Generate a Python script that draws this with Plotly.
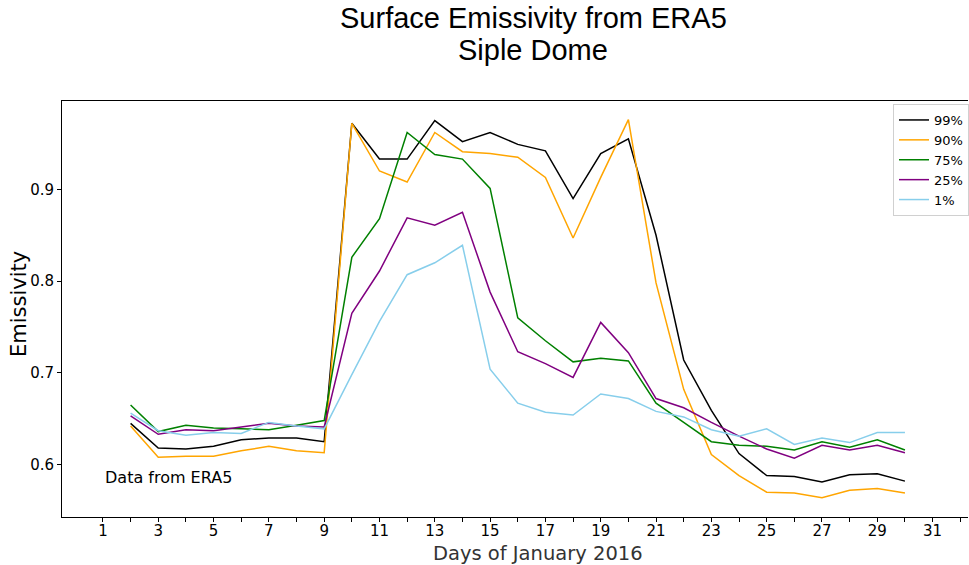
import plotly.graph_objects as go

days = list(range(2, 31))

p99 = [0.645, 0.618, 0.617, 0.620, 0.627, 0.629, 0.629, 0.625,
       0.972, 0.933, 0.933, 0.975, 0.952, 0.962, 0.949, 0.942, 0.890,
       0.939, 0.955, 0.850, 0.714, 0.659, 0.612, 0.588, 0.587, 0.581,
       0.589, 0.590, 0.582]
p90 = [0.642, 0.608, 0.609, 0.609, 0.615, 0.620, 0.615, 0.613,
       0.972, 0.920, 0.908, 0.962, 0.941, 0.939, 0.935, 0.913, 0.847,
       0.913, 0.976, 0.798, 0.682, 0.611, 0.588, 0.570, 0.569, 0.564,
       0.572, 0.574, 0.569]
p75 = [0.665, 0.636, 0.643, 0.640, 0.639, 0.638, 0.643, 0.648,
       0.826, 0.868, 0.962, 0.938, 0.933, 0.901, 0.760, 0.735, 0.712,
       0.716, 0.713, 0.667, 0.646, 0.625, 0.621, 0.620, 0.616, 0.625,
       0.619, 0.627, 0.616]
p25 = [0.653, 0.633, 0.638, 0.637, 0.641, 0.645, 0.642, 0.641,
       0.765, 0.811, 0.869, 0.861, 0.875, 0.788, 0.723, 0.710, 0.695,
       0.755, 0.722, 0.672, 0.662, 0.646, 0.631, 0.617, 0.607, 0.621,
       0.616, 0.621, 0.613]
p01 = [0.656, 0.637, 0.632, 0.635, 0.634, 0.646, 0.642, 0.639,
       0.698, 0.756, 0.807, 0.820, 0.839, 0.704, 0.667, 0.657, 0.654,
       0.677, 0.672, 0.658, 0.652, 0.638, 0.631, 0.639, 0.622, 0.629,
       0.624, 0.635, 0.635]

series = [("99%", p99, "black"), ("90%", p90, "orange"), ("75%", p75, "green"),
          ("25%", p25, "purple"), ("1%", p01, "skyblue")]

x_tickvals = list(range(1, 33))
x_ticktext = [str(v) if v % 2 == 1 else "" for v in x_tickvals]
y_tickvals = [0.6, 0.7, 0.8, 0.9]
y_ticktext = ["0.6", "0.7", "0.8", "0.9"]

fig = go.Figure()
for name, vals, col in series:
    fig.add_trace(go.Scatter(x=days, y=vals, mode="lines", name=name,
                             line=dict(color=col, width=1.5)))

W, H = 969, 565
L, R, T, B = 62, 0, 101, 48
pw, ph = W - L - R, H - T - B

def px(xp):
    return (xp - L) / pw

def py(yp):
    return (H - B - yp) / ph

font_dv = "DejaVu Sans"

fig.update_layout(
    width=W, height=H,
    margin=dict(l=L, r=R, t=T, b=B),
    paper_bgcolor="white", plot_bgcolor="white",
    showlegend=True,
    legend=dict(x=px(894), y=py(104), xanchor="left", yanchor="top",
                font=dict(family=font_dv, size=13, color="black"),
                bordercolor="#d0d0d0", borderwidth=1, bgcolor="white",
                tracegroupgap=0),
    xaxis=dict(range=[-0.48, 32.28], tickvals=x_tickvals, ticktext=x_ticktext,
               ticks="outside", ticklen=4, tickwidth=1, tickcolor="black",
               ticklabelstandoff=-4,
               showline=True, linecolor="black", linewidth=1, mirror=True,
               showgrid=False, zeroline=False,
               tickfont=dict(family=font_dv, size=15, color="black")),
    yaxis=dict(range=[0.5429, 0.9963], tickvals=y_tickvals, ticktext=y_ticktext,
               ticks="outside", ticklen=4, tickwidth=1, tickcolor="black",
               showline=True, linecolor="black", linewidth=1,
               showgrid=False, zeroline=False,
               tickfont=dict(family=font_dv, size=15, color="black")),
    annotations=[
        dict(text="Surface Emissivity from ERA5", xref="paper", yref="paper",
             x=px(534), y=py(18), xanchor="center", yanchor="middle",
             showarrow=False,
             font=dict(family="Liberation Sans", size=29, color="black")),
        dict(text="Siple Dome", xref="paper", yref="paper",
             x=px(534), y=py(50), xanchor="center", yanchor="middle",
             showarrow=False,
             font=dict(family="Liberation Sans", size=29, color="black")),
        dict(text="Days of January 2016", xref="paper", yref="paper",
             x=px(539), y=py(553), xanchor="center", yanchor="middle",
             showarrow=False,
             font=dict(family=font_dv, size=19.5, color="#333333")),
        dict(text="Emissivity", xref="paper", yref="paper",
             x=px(19), y=py(304), xanchor="center", yanchor="middle",
             textangle=-90, showarrow=False,
             font=dict(family=font_dv, size=21, color="black")),
        dict(text="Data from ERA5", xref="x", yref="y",
             x=1, y=0.5863, xanchor="left", yanchor="middle",
             showarrow=False,
             font=dict(family=font_dv, size=16, color="black")),
    ],
)

fig.write_html("out.html")
